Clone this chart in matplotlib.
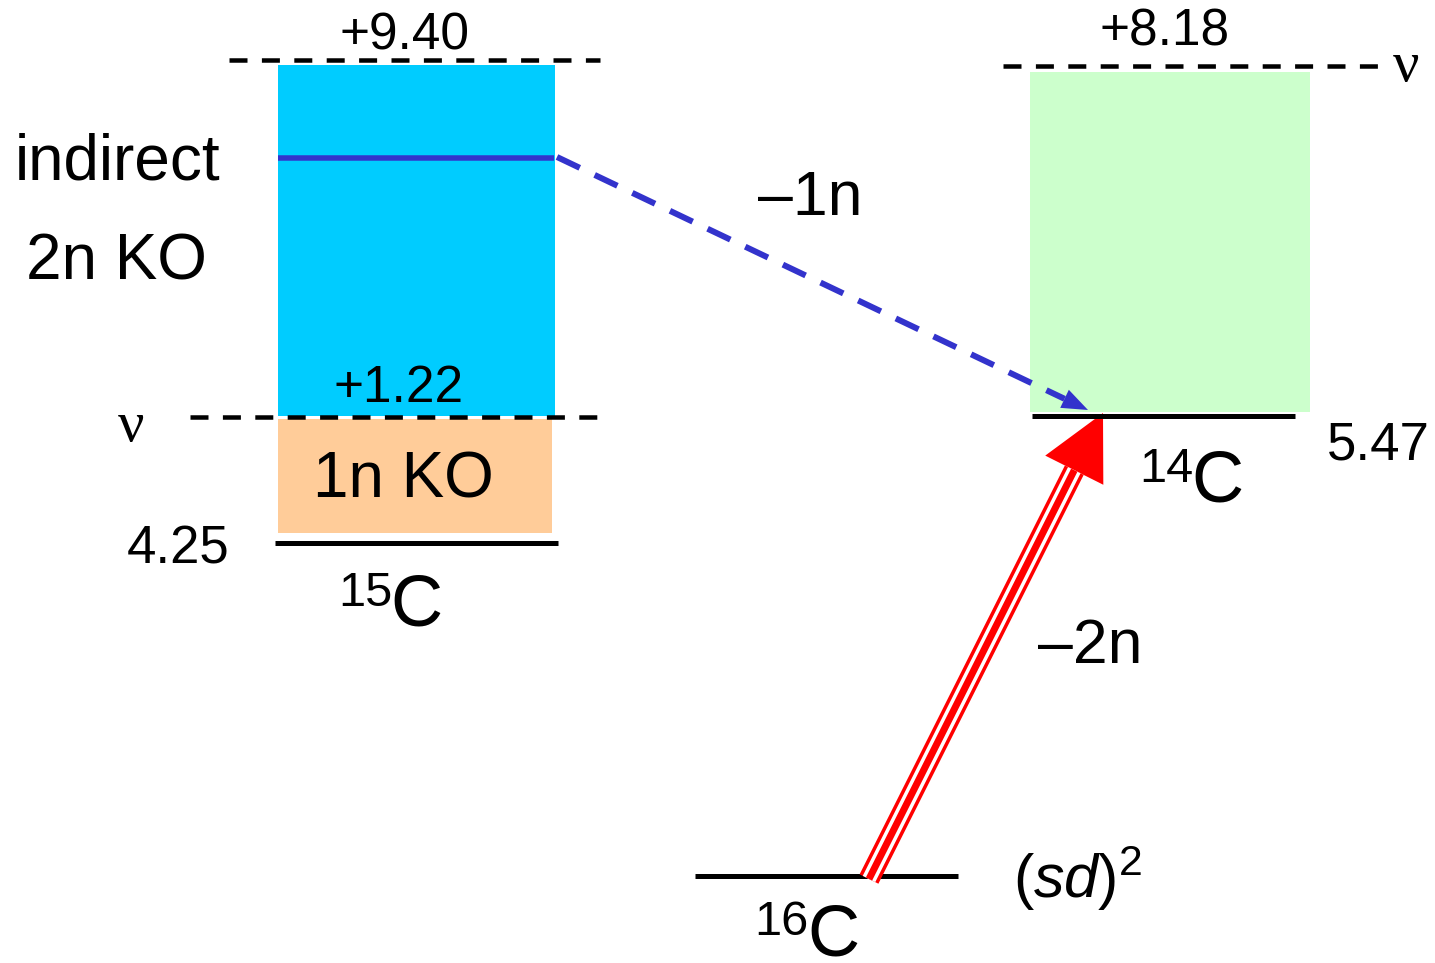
import numpy as np
import matplotlib.pyplot as plt
from matplotlib.patches import Rectangle, Polygon

plt.rcParams['font.family'] = ['Liberation Sans', 'DejaVu Sans']
plt.rcParams['mathtext.fontset'] = 'custom'
plt.rcParams['mathtext.rm'] = 'Liberation Sans'
plt.rcParams['mathtext.it'] = 'Liberation Sans:italic'

# 能级数据 (MeV)
nuclei = ['15', '14', '16']
level_labels = ['4.25', '5.47', None]
threshold_labels = ['+1.22', None, None]
upper_labels = ['+9.40', '+8.18', None]
process_labels = ['–1n', '–2n']
box_labels = ['indirect\n2n KO', '1n KO']

PX = 72 / 100  # 像素 -> 磅

# 画布: 用像素坐标作图
fig = plt.figure(figsize=(14.35, 9.63), dpi=100)
ax = fig.add_axes([0, 0, 1, 1])
ax.set_xlim(0, 1435)
ax.set_ylim(963, 0)
ax.axis('off')

# 各能级的位置 (x0, x1, y)
lv15 = (275, 558, 543)
lv14 = (1032, 1295, 416)
lv16 = (695, 958, 876)

# 填色区间
ax.add_patch(Rectangle((278, 65), 277, 351, color='#00ccff', lw=0))
ax.add_patch(Rectangle((278, 419), 274, 114, color='#ffcc99', lw=0))
ax.add_patch(Rectangle((1030, 72), 280, 340, color='#ccffcc', lw=0))

# 能级线
for x0, x1, y in [lv15, lv14, lv16]:
    ax.plot([x0, x1], [y, y], color='black', lw=5 * PX, solid_capstyle='butt')

# 中子阈 (虚线)
dash = dict(color='black', lw=4.5 * PX, dashes=(4.0, 3.2), dash_capstyle='butt')
ax.plot([190, 600], [417, 417], **dash)
ax.plot([229, 600], [60, 60], **dash)
ax.plot([1003, 1385], [66, 66], **dash)

# 15C 中间态
ax.plot([278, 554], [158, 158], color='#3333cc', lw=5.5 * PX, solid_capstyle='butt')


def arrow_head(tip, start, length, width, color):
    tip = np.array(tip, float)
    u = tip - np.array(start, float)
    u /= np.hypot(*u)
    n = np.array([-u[1], u[0]])
    base = tip - length * u
    ax.add_patch(Polygon([tip, base + width / 2 * n, base - width / 2 * n],
                         closed=True, color=color, lw=0))
    return base


# -1n 箭头 (蓝色虚线)
b = arrow_head((1088, 410), (557, 157), 26, 20, '#3333cc')
ax.plot([557, b[0]], [157, b[1]], color='#3333cc', lw=6 * PX,
        dashes=(4.2, 2.75), dash_capstyle='butt')

# -2n 箭头 (红色三线)
b = arrow_head((1103, 413), (869, 879), 64, 65, 'red')
for w, c in [(21, 'red'), (14, 'white'), (7, 'red')]:
    ax.plot([869, b[0]], [879, b[1]], color=c, lw=w * PX, solid_capstyle='butt')

# 文字
num = dict(fontsize=37, ha='center', va='baseline')
ax.text(404, 50, upper_labels[0], **num)
ax.text(399, 402, threshold_labels[0], **num)
ax.text(1165, 45, upper_labels[1], **num)
ax.text(178, 564, level_labels[0], fontsize=38, ha='center', va='baseline')
ax.text(1378, 460, level_labels[1], fontsize=38, ha='center', va='baseline')

big = dict(fontsize=46, ha='center', va='baseline')
ind, ko2 = box_labels[0].split('\n')
ax.text(118, 179, ind, **big)
ax.text(116, 279, ko2, **big)
ax.text(403, 497, box_labels[1], **big)
ax.text(810, 215, process_labels[0], fontsize=45, ha='center', va='baseline')
ax.text(1090, 663, process_labels[1], fontsize=45, ha='center', va='baseline')

nu = dict(family=['Liberation Serif'], fontsize=42, va='baseline', ha='center')
ax.text(131, 441, 'ν', **nu)
ax.text(1406, 81, 'ν', **nu)

# 核素名称
for mass, (xs, ys) in zip(nuclei, [(392, 626), (1193, 502), (809, 955)]):
    ax.text(xs, ys - 20, mass, fontsize=35, ha='right', va='baseline')
    ax.text(xs - 2, ys, 'C', fontsize=52, ha='left', va='baseline')

ax.text(1013, 898, r'$(\mathit{sd})^{2}$', fontsize=44, ha='left', va='baseline')

fig.savefig('out.png', dpi=100)
